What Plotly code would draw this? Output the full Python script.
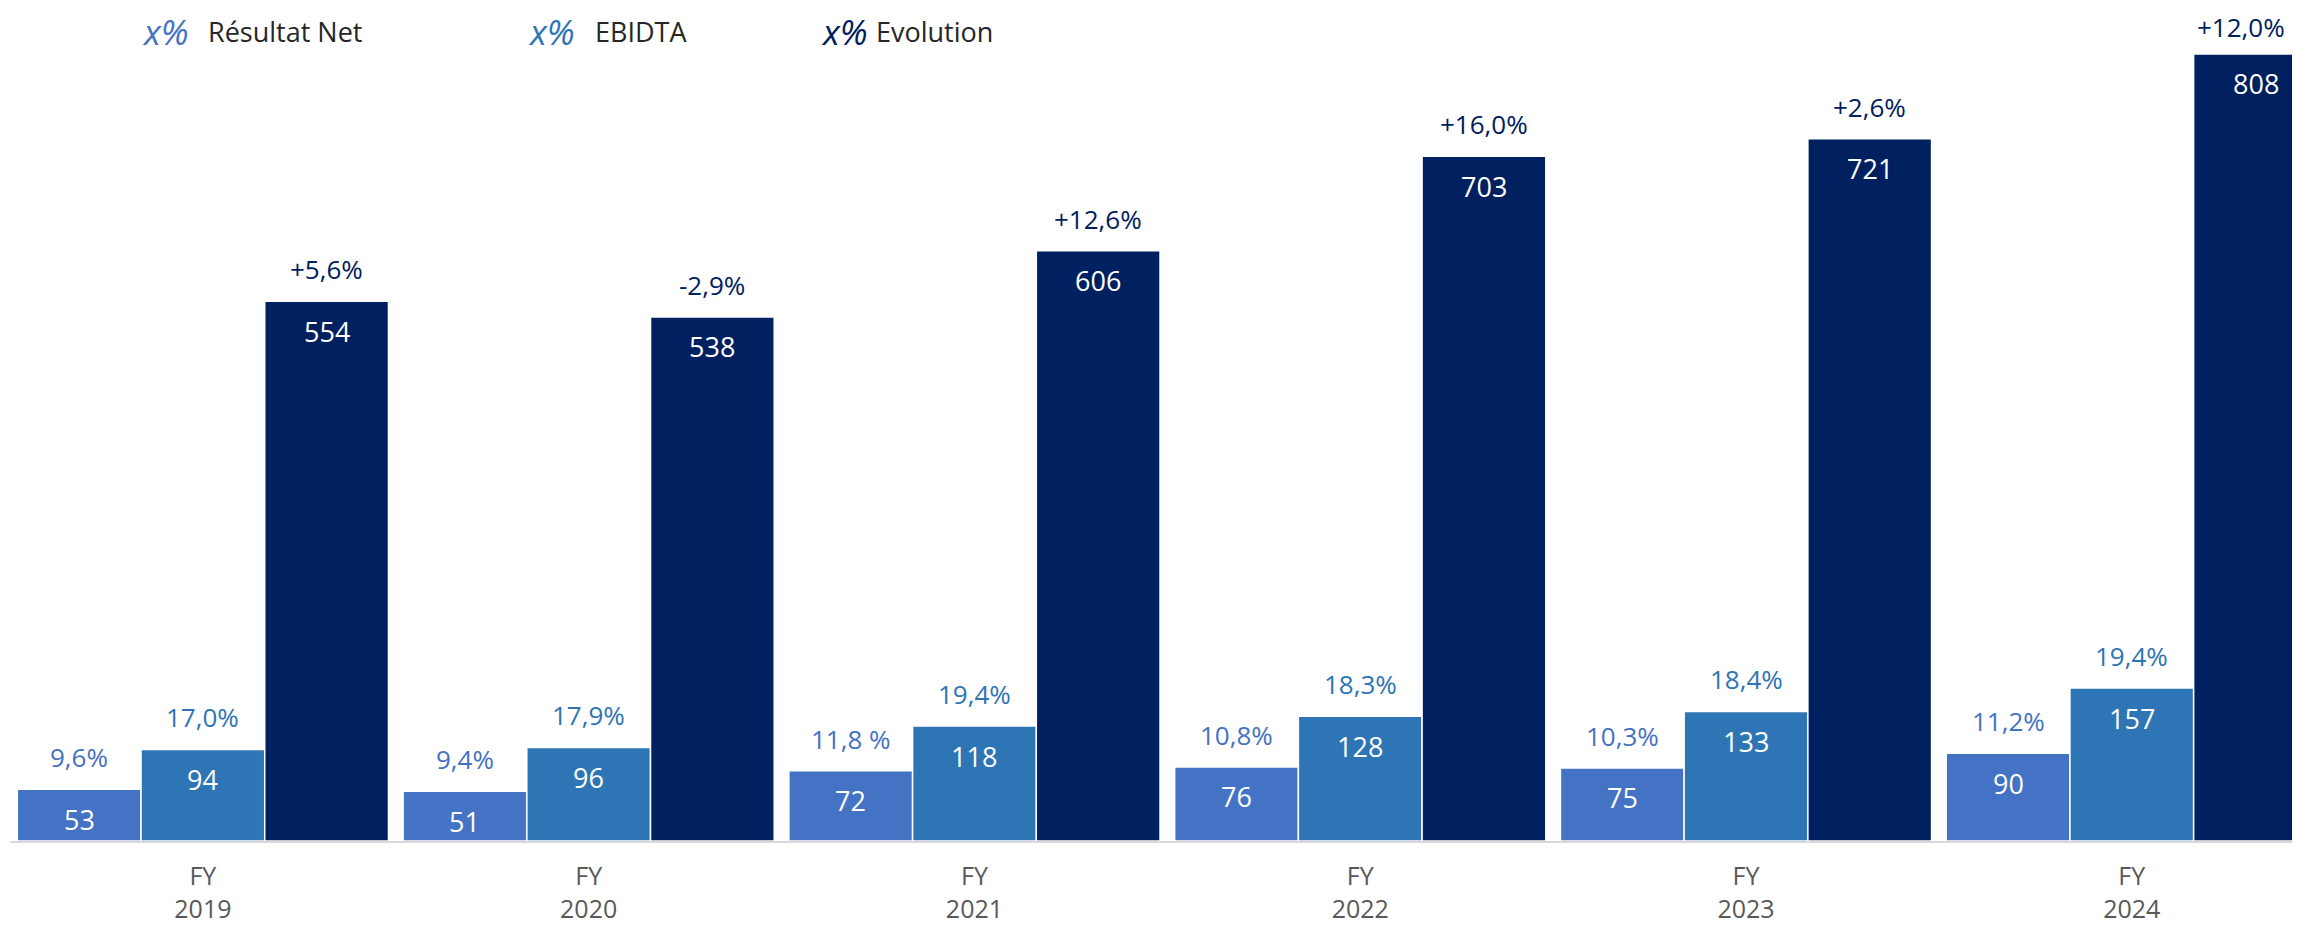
import plotly.graph_objects as go

# Data
years = ["2019", "2020", "2021", "2022", "2023", "2024"]
categories = ["FY<br>" + y for y in years]

series_names = ["Résultat Net", "EBIDTA", "Evolution"]
series_colors = ["#4472C4", "#2E75B6", "#002060"]

resultat_net = [53, 51, 72, 76, 75, 90]
ebidta = [94, 96, 118, 128, 133, 157]
chiffre_affaires = [554, 538, 606, 703, 721, 808]

marge_resultat_net = ["9,6%", "9,4%", "11,8 %", "10,8%", "10,3%", "11,2%"]
marge_ebidta = ["17,0%", "17,9%", "19,4%", "18,3%", "18,4%", "19,4%"]
evolution = ["+5,6%", "-2,9%", "+12,6%", "+16,0%", "+2,6%", "+12,0%"]

values = [resultat_net, ebidta, chiffre_affaires]
pct_labels = [marge_resultat_net, marge_ebidta, evolution]

# Layout settings (the page body adds an 8px margin, so the figure is 8px smaller)
W, H = 2292, 917
M_L, M_R, M_T, M_B = 2, 0, 5, 84
X_RANGE = [-0.5, 5.436]
Y_RANGE = [0, 850]
BARGAP = 0.038
FONT = "Open Sans"
PCT_SIZE = 26

plot_w = W - M_L - M_R
plot_h = H - M_T - M_B
px_per_cat = plot_w / (X_RANGE[1] - X_RANGE[0])
bar_w = px_per_cat * (1 - BARGAP) / 3
offsets = [-bar_w, 0, bar_w]

fig = go.Figure()

for name, color, vals in zip(series_names, series_colors, values):
    fig.add_trace(go.Bar(
        x=categories,
        y=vals,
        name=name,
        marker=dict(color=color, line=dict(color="white", width=1.5)),
        hoverinfo="skip",
    ))

annotations = []
for i in range(3):
    for j, cat in enumerate(categories):
        # value inside the top of the bar
        annotations.append(dict(
            x=cat, y=values[i][j], xref="x", yref="y",
            text=str(values[i][j]), showarrow=False,
            xshift=offsets[i], yshift=-30,
            font=dict(family=FONT, size=27, color="white"),
        ))
        # percentage above the bar, kept inside the figure at the top/right edges
        center_px = M_L + (j - X_RANGE[0]) * px_per_cat + offsets[i]
        half_w = 0.58 * PCT_SIZE * len(pct_labels[i][j]) / 2
        shift_x = min(0, (W - 14) - (center_px + half_w))
        bar_top_px = M_T + plot_h * (1 - values[i][j] / Y_RANGE[1])
        shift_y = min(32, bar_top_px - (0.65 * PCT_SIZE + 2))
        annotations.append(dict(
            x=cat, y=values[i][j], xref="x", yref="y",
            text=pct_labels[i][j], showarrow=False,
            xshift=offsets[i] + shift_x, yshift=shift_y,
            font=dict(family=FONT, size=PCT_SIZE, color=series_colors[i]),
        ))

# Legend drawn as text: "x%" symbol followed by series name
legend_sym_px = [132, 518, 811]
legend_txt_px = [198, 585, 866]
legend_y = (H - M_B - 24) / plot_h
for name, color, sx, tx in zip(series_names, series_colors, legend_sym_px, legend_txt_px):
    annotations.append(dict(
        x=(sx - M_L) / plot_w, y=legend_y, xref="paper", yref="paper",
        xanchor="left", yanchor="middle", showarrow=False,
        text="<i>x%</i>", font=dict(family=FONT, size=35, color=color),
    ))
    annotations.append(dict(
        x=(tx - M_L) / plot_w, y=legend_y, xref="paper", yref="paper",
        xanchor="left", yanchor="middle", showarrow=False,
        text=name, font=dict(family=FONT, size=27, color="#262626"),
    ))

fig.update_layout(
    width=W, height=H,
    margin=dict(l=M_L, r=M_R, t=M_T, b=M_B),
    barmode="group",
    bargap=BARGAP,
    bargroupgap=0,
    plot_bgcolor="white",
    paper_bgcolor="white",
    showlegend=False,
    annotations=annotations,
    xaxis=dict(
        range=X_RANGE,
        automargin=False,
        showgrid=False,
        showline=True,
        linecolor="#D9D9D9",
        linewidth=2,
        ticks="",
        ticklabelstandoff=12,
        tickfont=dict(family=FONT, size=25, color="#595959"),
    ),
    yaxis=dict(range=Y_RANGE, visible=False, automargin=False),
)

fig.write_html("out.html")
